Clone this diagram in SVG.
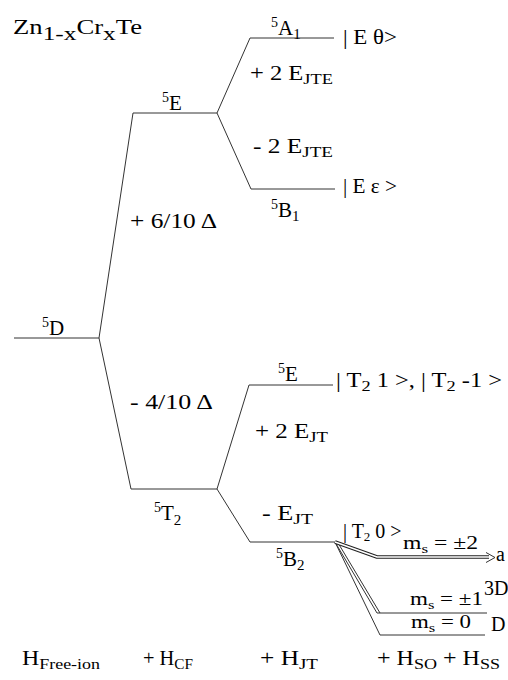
<svg xmlns="http://www.w3.org/2000/svg" width="508" height="680" viewBox="0 0 508 680">
<style>
text{font-family:"Liberation Serif","Times New Roman",serif;fill:#000;font-size:20px}
.lbl{font-size:21px}
.lv{stroke:#333;stroke-width:1;fill:none}
.cn{stroke:#333;stroke-width:1;fill:none}
.dblo{stroke:#222;stroke-width:3.6;fill:none;stroke-linejoin:round}
.dbli{stroke:#fff;stroke-width:1.4;fill:none;stroke-linejoin:round}
.sub{font-size:15px}
.sup{font-size:14px}
.ms{font-size:18px}
.mss{font-size:13px}
</style>
<rect width="508" height="680" fill="#fff"/>

<g id="title">
<text x="13" y="34" font-size="28" textLength="129" lengthAdjust="spacingAndGlyphs">Zn<tspan font-size="19" dy="6">1-x</tspan><tspan dy="-6">Cr</tspan><tspan font-size="19" dy="6">x</tspan><tspan dy="-6">Te</tspan></text>
</g>

<g id="connectors">
<line class="cn" x1="99" y1="338" x2="133" y2="113"/>
<line class="cn" x1="99" y1="338" x2="131" y2="489"/>
<line class="cn" x1="217" y1="113" x2="250" y2="38"/>
<line class="cn" x1="217" y1="113" x2="251" y2="189"/>
<line class="cn" x1="217" y1="489" x2="249" y2="385"/>
<line class="cn" x1="217" y1="489" x2="250" y2="542"/>
<polyline class="cn" points="335,542 380,635 485,635"/>
<polyline class="cn" points="335,542 377,613 487,613"/>
<line class="cn" x1="337.5" y1="542" x2="380" y2="613"/>
<polyline class="dblo" points="335,542 377,557 489,557"/>
<polyline class="dbli" points="335,542 377,557 490,557"/>
<polyline class="cn" points="486,552.5 495,557.5 486,562.5"/>
</g>

<g id="level-5D">
<line class="lv" x1="14" y1="338" x2="99" y2="338"/>
<text class="lbl" x="42" y="335"><tspan class="sup" dy="-8">5</tspan><tspan dy="8">D</tspan></text>
</g>

<g id="level-5E-cf">
<line class="lv" x1="133" y1="113" x2="217" y2="113"/>
<text class="lbl" x="162" y="110"><tspan class="sup" dy="-8">5</tspan><tspan dy="8">E</tspan></text>
</g>

<g id="level-5T2">
<line class="lv" x1="131" y1="489" x2="217" y2="489"/>
<text class="lbl" x="154" y="520"><tspan class="sup" dy="-8">5</tspan><tspan dy="8">T</tspan><tspan class="sub" dy="5">2</tspan></text>
</g>

<g id="level-5A1">
<line class="lv" x1="250" y1="38" x2="334" y2="38"/>
<text class="lbl" x="271" y="35"><tspan class="sup" dy="-8">5</tspan><tspan dy="8">A</tspan><tspan class="sub" dy="4">1</tspan></text>
<text x="343" y="44" textLength="54" lengthAdjust="spacingAndGlyphs">| E θ&gt;</text>
</g>

<g id="level-5B1">
<line class="lv" x1="251" y1="189" x2="335" y2="189"/>
<text class="lbl" x="271" y="217"><tspan class="sup" dy="-8">5</tspan><tspan dy="8">B</tspan><tspan class="sub" dy="4">1</tspan></text>
<text x="343" y="193" textLength="54" lengthAdjust="spacingAndGlyphs">| E ε &gt;</text>
</g>

<g id="level-5E-jt">
<line class="lv" x1="249" y1="385" x2="333" y2="385"/>
<text class="lbl" x="278" y="381"><tspan class="sup" dy="-8">5</tspan><tspan dy="8">E</tspan></text>
<text x="336" y="387" textLength="166" lengthAdjust="spacingAndGlyphs">| T<tspan class="sub" dy="4">2</tspan><tspan dy="-4"> 1 &gt;, | T</tspan><tspan class="sub" dy="4">2</tspan><tspan dy="-4"> -1 &gt;</tspan></text>
</g>

<g id="level-5B2">
<line class="lv" x1="250" y1="542" x2="335" y2="542"/>
<text class="lbl" x="276" y="566"><tspan class="sup" dy="-8">5</tspan><tspan dy="8">B</tspan><tspan class="sub" dy="4">2</tspan></text>
<text x="343" y="538" font-size="18">| T<tspan font-size="13" dy="3">2</tspan><tspan dy="-3"> 0 &gt;</tspan></text>
</g>

<g id="level-ms2">
<text class="ms" x="403" y="549" textLength="75" lengthAdjust="spacingAndGlyphs">m<tspan class="mss" dy="4">s</tspan><tspan dy="-4"> = ±2</tspan></text>
<text x="496" y="561">a</text>
</g>

<g id="level-ms1">
<text class="ms" x="410" y="605" textLength="73" lengthAdjust="spacingAndGlyphs">m<tspan class="mss" dy="4">s</tspan><tspan dy="-4"> = ±1</tspan></text>
<text x="484" y="595" font-size="19">3D</text>
</g>

<g id="level-ms0">
<text class="ms" x="411" y="628" textLength="60" lengthAdjust="spacingAndGlyphs">m<tspan class="mss" dy="4">s</tspan><tspan dy="-4"> = 0</tspan></text>
<text x="491" y="631" font-size="19">D</text>
</g>

<g id="splittings">
<text x="130" y="228" font-size="22" textLength="87" lengthAdjust="spacingAndGlyphs">+ 6/10  Δ</text>
<text x="130" y="409" font-size="22" textLength="83" lengthAdjust="spacingAndGlyphs">- 4/10  Δ</text>
<text x="250" y="80" textLength="83" lengthAdjust="spacingAndGlyphs">+ 2 E<tspan class="sub" dy="4">JTE</tspan></text>
<text x="253" y="153" textLength="80" lengthAdjust="spacingAndGlyphs">- 2 E<tspan class="sub" dy="4">JTE</tspan></text>
<text x="255" y="438" textLength="73" lengthAdjust="spacingAndGlyphs">+ 2 E<tspan class="sub" dy="4">JT</tspan></text>
<text x="262" y="520" textLength="51" lengthAdjust="spacingAndGlyphs">- E<tspan class="sub" dy="4">JT</tspan></text>
</g>

<g id="hamiltonians">
<text x="22" y="665" textLength="78" lengthAdjust="spacingAndGlyphs">H<tspan class="sub" dy="4">Free-ion</tspan></text>
<text x="143" y="665" textLength="50" lengthAdjust="spacingAndGlyphs">+ H<tspan class="sub" dy="4">CF</tspan></text>
<text x="260" y="665" textLength="58" lengthAdjust="spacingAndGlyphs">+ H<tspan class="sub" dy="4">JT</tspan></text>
<text x="377" y="665" textLength="123" lengthAdjust="spacingAndGlyphs">+ H<tspan class="sub" dy="4">SO</tspan><tspan dy="-4"> + H</tspan><tspan class="sub" dy="4">SS</tspan></text>
</g>
</svg>
